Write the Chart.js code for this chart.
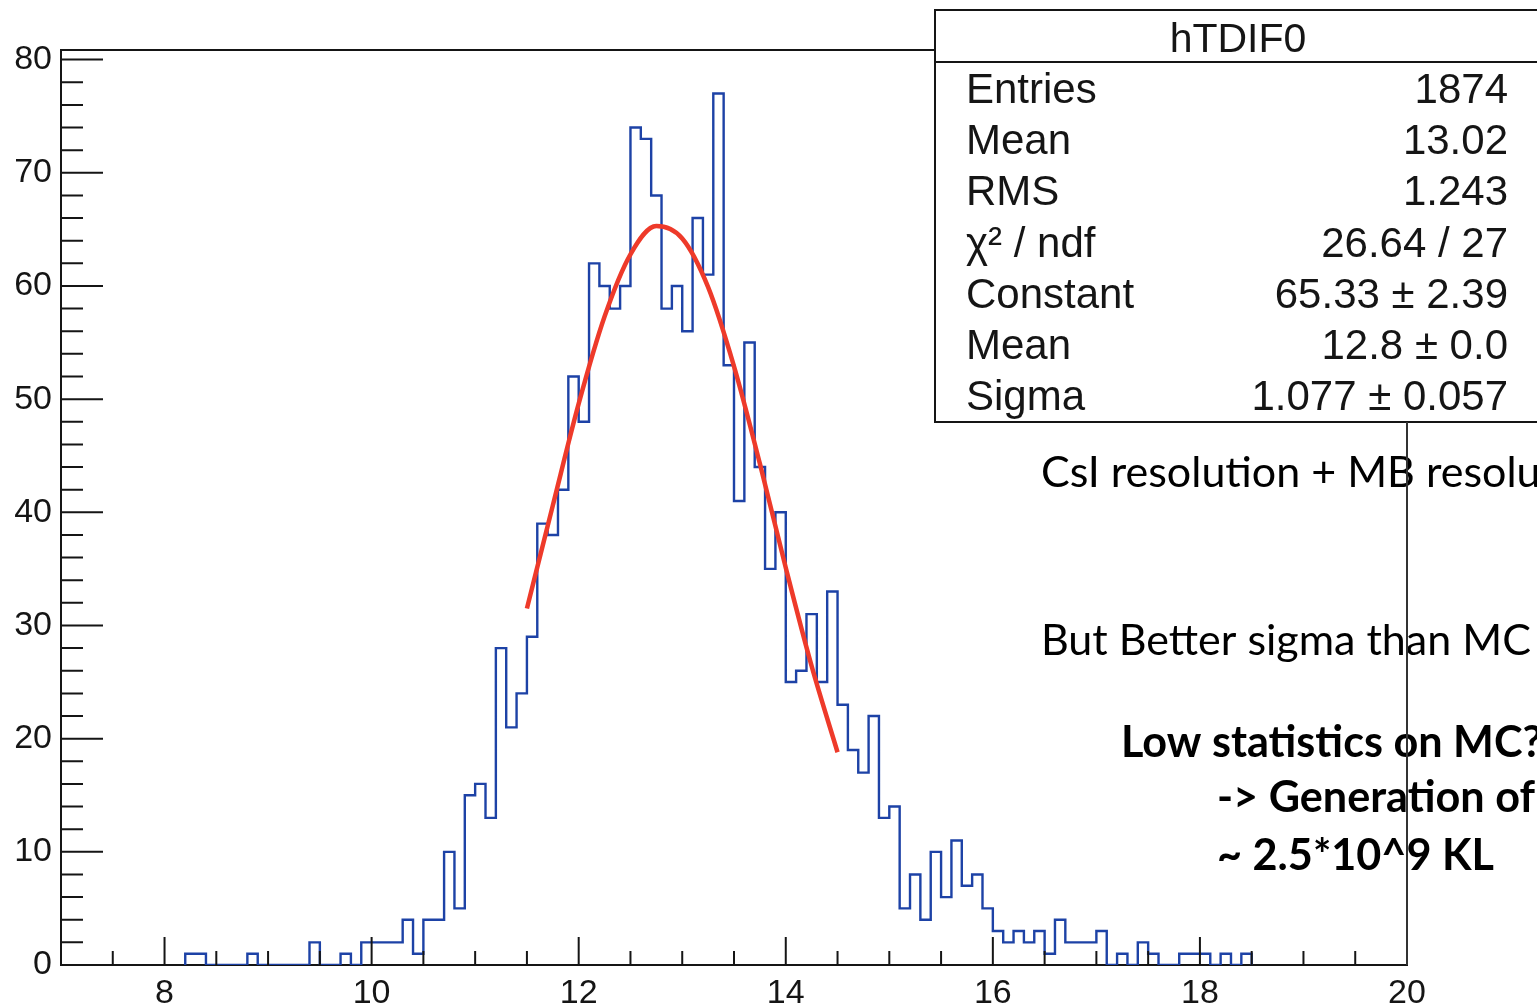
<!DOCTYPE html>
<html>
<head>
<meta charset="utf-8">
<script src="https://cdn.jsdelivr.net/npm/chart.js@4.4.1/dist/chart.umd.min.js"></script>
<style>
  html, body { margin: 0; padding: 0; background: #fff; }
  canvas { display: block; }
</style>
</head>
<body>
<canvas id="hist" width="1537" height="1006"></canvas>
<script>
// hTDIF0 histogram, 0.1 wide bins; first filled bin starts at 8.2
const firstBinLow = 8.2;
const binWidth = 0.1;
const counts = [
    1, 1, 0, 0, 0, 0, 1, 0, 0, 0,
    0, 0, 2, 0, 0, 1, 0, 2, 2, 2,
    2, 4, 1, 4, 4, 10, 5, 15, 16, 13,
    28, 21, 24, 29, 39, 38, 42, 52, 48, 62,
    60, 58, 60, 74, 73, 68, 58, 60, 56, 66,
    61, 77, 53, 41, 55, 44, 35, 40, 25, 26,
    31, 25, 33, 23, 19, 17, 22, 13, 14, 5,
    8, 4, 10, 6, 11, 7, 8, 5, 3, 2,
    3, 2, 3, 1, 4, 2, 2, 2, 3, 0,
    1, 0, 2, 1, 0, 0, 1, 1, 1, 0,
    1, 0, 1
];

// red gaus fit curve (fit range 11.5 - 14.5)
const fitX = [11.5, 11.75, 12.0, 12.25, 12.5, 12.75, 13.0, 13.25, 13.5, 13.75, 14.0, 14.25, 14.5];
const fitY = [31.5, 40.6, 49.6, 57.3, 62.8, 65.3, 64.2, 59.9, 52.9, 44.3, 35.1, 26.4, 18.8];

const xTickLabels = [8, 10, 12, 14, 16, 18, 20];
const yTickLabels = [0, 10, 20, 30, 40, 50, 60, 70, 80];

const statsTitle = 'hTDIF0';
const statsNames = ['Entries', 'Mean', 'RMS', 'χ² / ndf', 'Constant', 'Mean', 'Sigma'];
const statsValues = ['1874', '13.02', '1.243', '26.64 / 27', '65.33 ± 2.39', '12.8 ± 0.0', '1.077 ± 0.057'];

const notesPlain = ['CsI resolution + MB resolution', 'But Better sigma than MC'];
const notesBold = ['Low statistics on MC?', '-> Generation of', '~ 2.5*10^9 KL'];

// ---- build chart data ----
let histPoints = [{ x: firstBinLow, y: 0 }];
counts.forEach(function (c, i) {
    histPoints.push({ x: firstBinLow + i * binWidth, y: c });
});
histPoints.push({ x: firstBinLow + counts.length * binWidth, y: 0 });

let fitPoints = fitX.map(function (x, i) { return { x: x, y: fitY[i] }; });

const ink = '#151515';
const axisFont = { family: '"Liberation Sans", Arial, sans-serif', size: 34 };

// fit a font size so that a sample string gets a given width
function fitFont(ctx, weight, family, sample, target) {
    ctx.font = weight + ' 40px ' + family;
    let w = ctx.measureText(sample).width;
    return weight + ' ' + (40 * target / w).toFixed(1) + 'px ' + family;
}

// ROOT style: frame, inward ticks, stats box, slide notes
const rootFrame = {
    id: 'rootFrame',
    afterDatasetsDraw(chart) {
        const { ctx, chartArea: a, scales: { x, y } } = chart;
        ctx.save();
        ctx.strokeStyle = ink;
        ctx.lineWidth = 2;
        ctx.beginPath();
        // frame top + right
        ctx.moveTo(a.left, a.top);
        ctx.lineTo(a.right, a.top);
        ctx.lineTo(a.right, a.bottom);
        // x ticks: major every 2, minor every 0.5
        for (let v = 7.5; v < 20; v += 0.5) {
            let px = x.getPixelForValue(v);
            let len = (v % 2 === 0) ? 28 : 14;
            ctx.moveTo(px, a.bottom);
            ctx.lineTo(px, a.bottom - len);
        }
        // y ticks: major every 10, minor every 2
        for (let v = 2; v <= 80; v += 2) {
            let py = y.getPixelForValue(v);
            let len = (v % 10 === 0) ? 42 : 22;
            ctx.moveTo(a.left, py);
            ctx.lineTo(a.left + len, py);
        }
        ctx.stroke();
        ctx.restore();
    },
    afterDraw(chart) {
        const { ctx, chartArea: a } = chart;
        ctx.save();

        // stats box
        let box = { left: 935, top: 10, right: 1545, bottom: 422, sep: 62 };
        ctx.fillStyle = '#fff';
        ctx.fillRect(box.left, box.top, box.right - box.left, box.bottom - box.top);
        ctx.strokeStyle = ink;
        ctx.lineWidth = 2;
        ctx.strokeRect(box.left, box.top, box.right - box.left, box.bottom - box.top);
        ctx.beginPath();
        ctx.moveTo(box.left, box.sep);
        ctx.lineTo(box.right, box.sep);
        ctx.stroke();

        ctx.fillStyle = ink;
        ctx.textBaseline = 'alphabetic';
        ctx.font = '41px "Liberation Sans", Arial, sans-serif';
        ctx.textAlign = 'center';
        ctx.fillText(statsTitle, 1238, 52);
        ctx.font = '42px "Liberation Sans", Arial, sans-serif';
        statsNames.forEach(function (name, i) {
            let base = 103 + i * 51.2;
            ctx.textAlign = 'left';
            ctx.fillText(name, 966, base);
            ctx.textAlign = 'right';
            ctx.fillText(statsValues[i], 1508, base);
        });

        // slide notes
        ctx.textAlign = 'left';
        ctx.fillStyle = '#000';
        ctx.font = fitFont(ctx, 'normal', 'Lato, "Open Sans", sans-serif', 'CsI resolution', 259);
        ctx.fillText(notesPlain[0], 1041, 487);
        ctx.fillText(notesPlain[1], 1041, 655);
        ctx.font = fitFont(ctx, 'bold', 'Lato, "Open Sans", sans-serif', 'Low statistics', 262);
        ctx.fillText(notesBold[0], 1121, 757);
        ctx.fillText(notesBold[1], 1217, 812);
        ctx.fillText(notesBold[2], 1217, 870);

        // right frame line runs over the notes
        ctx.strokeStyle = '#333';
        ctx.lineWidth = 2;
        ctx.beginPath();
        ctx.moveTo(a.right, box.bottom);
        ctx.lineTo(a.right, a.bottom);
        ctx.stroke();
        ctx.restore();
    }
};

new Chart(document.getElementById('hist'), {
    type: 'line',
    data: {
        datasets: [
            {
                label: 'hTDIF0',
                data: histPoints,
                stepped: 'before',
                borderColor: '#1d42a6',
                borderWidth: 2.4,
                pointRadius: 0,
                fill: false,
                order: 2,
            }, {
                label: 'gaus',
                data: fitPoints,
                borderColor: '#ee3a2a',
                borderWidth: 4.5,
                pointRadius: 0,
                cubicInterpolationMode: 'monotone',
                fill: false,
                order: 1,
            }
        ]
    },
    options: {
        responsive: false,
        animation: false,
        layout: { padding: { top: 50, right: 130, left: 0, bottom: 0 } },
        plugins: {
            legend: { display: false },
            tooltip: { enabled: false },
        },
        scales: {
            x: {
                type: 'linear',
                min: 7,
                max: 20,
                grid: { display: false, drawTicks: false },
                border: { display: true, color: ink, width: 2 },
                ticks: { font: axisFont, color: ink, padding: 8, maxRotation: 0, autoSkip: false },
                afterBuildTicks: function (s) { s.ticks = xTickLabels.map(function (v) { return { value: v }; }); },
                afterFit: function (s) { s.height = 41; },
            },
            y: {
                type: 'linear',
                min: 0,
                max: 80.85,
                grid: { display: false, drawTicks: false },
                border: { display: true, color: ink, width: 2 },
                ticks: { font: axisFont, color: ink, padding: 9, autoSkip: false },
                afterBuildTicks: function (s) { s.ticks = yTickLabels.map(function (v) { return { value: v }; }); },
                afterFit: function (s) { s.width = 61; },
            }
        }
    },
    plugins: [rootFrame]
});
</script>
</body>
</html>
